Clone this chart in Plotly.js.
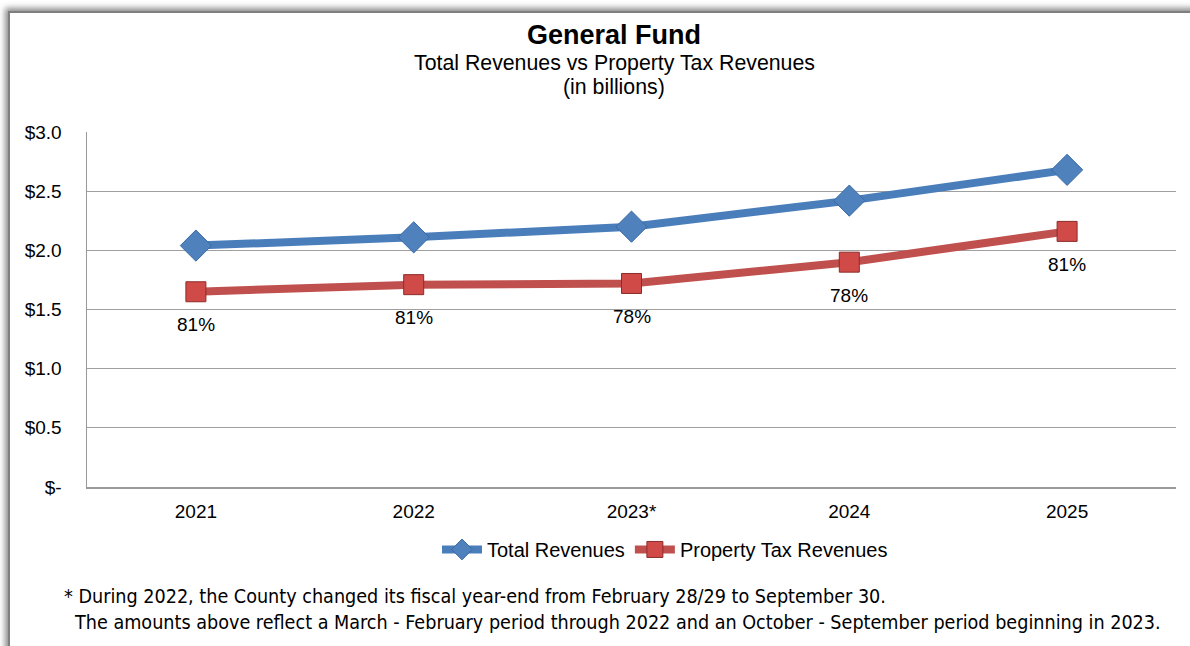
<!DOCTYPE html>
<html>
<head>
<meta charset="utf-8">
<script src="https://cdn.plot.ly/plotly-3.0.1.min.js"></script>
<style>
  html, body { margin: 0; padding: 0; background: #ffffff; overflow: hidden; }
  #wrap { position: relative; width: 1190px; height: 646px; background: #fff; }
  #frame { position: absolute; left: 8px; top: 11px; width: 1200px; height: 660px;
           border: 2px solid #7f7f7f; box-shadow: -3px -3px 6px rgba(0,0,0,0.45); }
  #chart { position: absolute; left: 0; top: 0; width: 1190px; height: 646px; }
</style>
</head>
<body>
<div id="wrap">
  <div id="frame"></div>
  <div id="chart"></div>
</div>
<script>
const years = ["2021", "2022", "2023*", "2024", "2025"];
const totalRevenues = [2.04, 2.11, 2.20, 2.42, 2.68];
const propertyTaxRevenues = [1.65, 1.71, 1.72, 1.90, 2.16];
const pctLabels = ["81%", "81%", "78%", "78%", "81%"];
const yTickVals = [0, 0.5, 1.0, 1.5, 2.0, 2.5, 3.0];
const yTickText = ["$-", "$0.5", "$1.0", "$1.5", "$2.0", "$2.5", "$3.0"];
const footnotes = [
  "* During 2022, the County changed its fiscal year-end from February 28/29 to September 30.",
  "The amounts above reflect a March - February period through 2022 and an October - September period beginning in 2023."
];

const font = "Liberation Sans, Arial, sans-serif";

const traces = [
  {
    x: years, y: totalRevenues, name: "Total Revenues", type: "scatter", mode: "lines+markers",
    line: { color: "#4a7ebb", width: 8 },
    marker: { symbol: "diamond", size: 24, color: "#4f81bd", line: { color: "#3a6aa5", width: 1 } },
    hoverinfo: "x+y"
  },
  {
    x: years, y: propertyTaxRevenues, name: "Property Tax Revenues", type: "scatter", mode: "lines+markers",
    line: { color: "#c0504d", width: 8 },
    marker: { symbol: "square", size: 20, color: "#d04a48", line: { color: "#8c2c2a", width: 1 } },
    hoverinfo: "x+y"
  }
];

// category axis: position annotations by category index
const annotations = pctLabels.map((t, i) => ({
  x: i, y: propertyTaxRevenues[i], xref: "x", yref: "y",
  text: t, showarrow: false, yshift: -33,
  font: { family: font, size: 19, color: "#000" }
}));

const titleX = (614 - 87) / 1089;
annotations.push(
  { xref: "paper", yref: "paper", x: titleX, y: 1, yanchor: "middle", xanchor: "center",
    text: "<b>General Fund</b>", showarrow: false, yshift: 97,
    font: { family: font, size: 27, color: "#000" } },
  { xref: "paper", yref: "paper", x: titleX, y: 1, yanchor: "middle", xanchor: "center",
    text: "Total Revenues vs Property Tax Revenues", showarrow: false, yshift: 69,
    font: { family: font, size: 21.3, color: "#000" } },
  { xref: "paper", yref: "paper", x: titleX, y: 1, yanchor: "middle", xanchor: "center",
    text: "(in billions)", showarrow: false, yshift: 45,
    font: { family: font, size: 21.3, color: "#000" } },
  { xref: "paper", yref: "paper", x: (62 - 87) / 1089, y: 0, yanchor: "middle", xanchor: "left",
    text: footnotes[0], showarrow: false, yshift: -109,
    font: { family: "DejaVu Sans Condensed, sans-serif", size: 19.6, color: "#000" } },
  { xref: "paper", yref: "paper", x: (72 - 87) / 1089, y: 0, yanchor: "middle", xanchor: "left",
    text: footnotes[1], showarrow: false, yshift: -135,
    font: { family: "DejaVu Sans Condensed, sans-serif", size: 19.6, color: "#000" } }
);

const layout = {
  width: 1190, height: 646,
  margin: { l: 87, r: 14, t: 132, b: 159 },
  paper_bgcolor: "rgba(0,0,0,0)",
  plot_bgcolor: "rgba(0,0,0,0)",
  showlegend: true,
  legend: {
    orientation: "h", x: (665 - 87) / 1089, xanchor: "center", y: -0.121, yanchor: "top",
    font: { family: font, size: 20, color: "#000" }, itemwidth: 40, tracegroupgap: 0
  },
  xaxis: {
    type: "category", range: [-0.5, 4.5], showgrid: false,
    showline: true, linecolor: "#999", linewidth: 1.5,
    ticks: "", tickfont: { family: font, size: 19, color: "#000" }, ticklabelstandoff: 7,
    fixedrange: true
  },
  yaxis: {
    range: [0, 3.0], tickvals: yTickVals, ticktext: yTickText,
    showgrid: true, gridcolor: "#a0a0a0", gridwidth: 1,
    showline: true, linecolor: "#999", linewidth: 1.5, zeroline: false,
    ticks: "", tickfont: { family: font, size: 19, color: "#000" }, ticklabelstandoff: 20,
    fixedrange: true
  },
  annotations: annotations
};

Plotly.newPlot("chart", traces, layout, { displayModeBar: false, staticPlot: true });
</script>
</body>
</html>
